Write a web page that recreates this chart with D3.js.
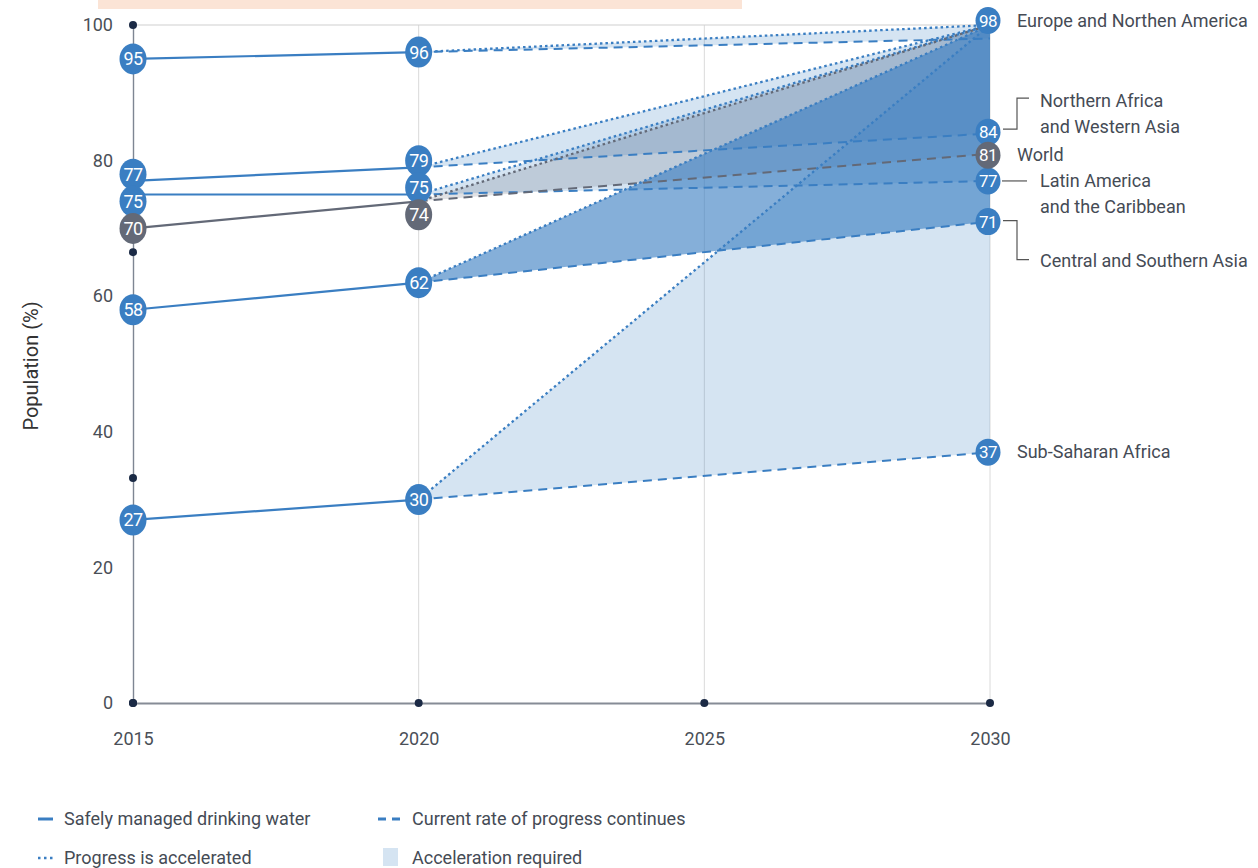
<!DOCTYPE html>
<html>
<head>
<meta charset="utf-8">
<script src="https://cdn.jsdelivr.net/npm/d3@7"></script>
<style>
  html, body { margin: 0; padding: 0; background: #fff; }
  svg { display: block; }
  text { font-family: Roboto, "Noto Sans", sans-serif; }
</style>
</head>
<body>
<svg id="chart" width="1258" height="868"></svg>
<script>
// ---- data ----
const regions = [
  "Europe and Northen America",
  "Northern Africa and Western Asia",
  "Latin America and the Caribbean",
  "World",
  "Central and Southern Asia",
  "Sub-Saharan Africa"
];
const years = [2015, 2020, 2030];
const v2015 = [95, 77, 75, 70, 58, 27];          // safely managed drinking water, 2015
const v2020 = [96, 79, 75, 74, 62, 30];          // safely managed drinking water, 2020
const current2030 = [98, 84, 77, 81, 71, 37];    // current rate of progress continues
const accelerated2030 = [100, 100, 100, 100, 100, 100]; // progress is accelerated
const yTickValues = [0, 20, 40, 60, 80, 100];
const xTickValues = [2015, 2020, 2025, 2030];
const yAxisDots = [100, 66.5, 33.2, 0];
const legendLabels = [
  "Safely managed drinking water",
  "Current rate of progress continues",
  "Progress is accelerated",
  "Acceleration required"
];

// ---- styling ----
const BLUE = "#3a7ec2";
const GREY = "#636977";
const colorOf = name => name === "World" ? GREY : BLUE;
const fillOf = name => name === "World" ? "rgba(100,106,120,0.2)"
  : name === "Central and Southern Asia" ? "rgba(58,126,194,0.62)"
  : "rgba(58,126,194,0.21)";
const endLabelNudge = { "Europe and Northen America": -18 };

const svg = d3.select("#chart");
const x = d3.scaleLinear().domain([2015, 2030]).range([133, 990]);
const y = d3.scaleLinear().domain([0, 100]).range([703, 25]);

// top band
svg.append("rect").attr("x", 98).attr("y", 0).attr("width", 644).attr("height", 9).attr("fill", "#fbe4d6");

// grid
const grid = svg.append("g");
grid.selectAll("line.v").data(xTickValues.slice(1)).join("line")
  .attr("x1", d => x(d)).attr("x2", d => x(d))
  .attr("y1", y(100)).attr("y2", y(0))
  .attr("stroke", "#dadada").attr("stroke-width", 1);
grid.append("line")
  .attr("x1", x(2015)).attr("x2", x(2030))
  .attr("y1", y(100)).attr("y2", y(100))
  .attr("stroke", "#d0d0d0").attr("stroke-width", 1.2);

// axes
const yAxis = svg.append("g").attr("transform", `translate(${x(2015)},0)`)
  .call(d3.axisLeft(y).tickValues(yTickValues).tickSize(0).tickSizeOuter(0).tickPadding(20));
yAxis.select(".domain").attr("stroke", "#7e8693").attr("stroke-width", 1.4);
yAxis.selectAll("text").attr("font-size", 18).attr("fill", "#4a4f57")
  .attr("font-family", "Roboto, sans-serif");

const xAxis = svg.append("g").attr("transform", `translate(0,${y(0)})`)
  .call(d3.axisBottom(x).tickValues(xTickValues).tickFormat(d3.format("d")).tickSize(0).tickSizeOuter(0).tickPadding(29));
xAxis.select(".domain").attr("stroke", "#868c96").attr("stroke-width", 2);
xAxis.selectAll("text").attr("font-size", 18).attr("fill", "#4a4f57")
  .attr("font-family", "Roboto, sans-serif");

svg.append("text")
  .attr("transform", `translate(38,${(y(0) + y(100)) / 2 + 2}) rotate(-90)`)
  .attr("text-anchor", "middle")
  .attr("font-family", "'Noto Sans', sans-serif")
  .attr("font-size", 20).attr("fill", "#333")
  .text("Population (%)");

// axis dots
const dotG = svg.append("g").attr("fill", "#1b2a45");
dotG.selectAll("circle.ya").data(yAxisDots).join("circle")
  .attr("cx", x(2015)).attr("cy", d => y(d)).attr("r", 4);
dotG.selectAll("circle.xa").data(xTickValues).join("circle")
  .attr("cx", d => x(d)).attr("cy", y(0)).attr("r", 4);

// rows
const rows = regions.map((name, i) => ({
  name, a: v2015[i], b: v2020[i], cur: current2030[i], acc: accelerated2030[i]
}));

// acceleration-required areas
svg.append("g").selectAll("path").data(rows).join("path")
  .attr("d", r => `M${x(2020)},${y(r.b)}L${x(2030)},${y(r.acc)}L${x(2030)},${y(r.cur)}Z`)
  .attr("fill", r => fillOf(r.name));

// projections
const proj = svg.append("g").attr("fill", "none").attr("stroke-width", 2);
proj.selectAll("line.cur").data(rows).join("line")
  .attr("x1", x(2020)).attr("y1", r => y(r.b))
  .attr("x2", x(2030)).attr("y2", r => y(r.cur))
  .attr("stroke", r => colorOf(r.name)).attr("stroke-dasharray", "9,6");
proj.selectAll("line.acc").data(rows).join("line")
  .attr("x1", x(2020)).attr("y1", r => y(r.b))
  .attr("x2", x(2030)).attr("y2", r => y(r.acc))
  .attr("stroke", r => colorOf(r.name)).attr("stroke-width", 2.3).attr("stroke-dasharray", "2.5,3");

// observed
const line = d3.line().x(d => x(d[0])).y(d => y(d[1]));
svg.append("g").selectAll("path").data(rows).join("path")
  .attr("d", r => line([[2015, r.a], [2020, r.b]]))
  .attr("fill", "none").attr("stroke", r => colorOf(r.name)).attr("stroke-width", 2.2);

// spread overlapping labels within a column
function spread(items, gap) {
  let clusters = items.slice().sort((p, q) => p.y0 - q.y0)
    .map(it => ({ members: [it], center: it.y0 }));
  let merged = true;
  while (merged) {
    merged = false;
    for (let i = 0; i < clusters.length - 1; i++) {
      const c1 = clusters[i], c2 = clusters[i + 1];
      const bottom1 = c1.center + (c1.members.length - 1) / 2 * gap;
      const top2 = c2.center - (c2.members.length - 1) / 2 * gap;
      if (top2 - bottom1 < gap) {
        const members = c1.members.concat(c2.members);
        clusters.splice(i, 2, { members, center: d3.mean(members, m => m.y0) });
        merged = true;
        break;
      }
    }
  }
  clusters.forEach(c => c.members.forEach((m, k) => {
    m.y = c.center + (k - (c.members.length - 1) / 2) * gap;
  }));
  return items;
}

const labelCols = [
  { year: 2015, key: "a", gap: 27, rx: 13.5, ry: 15.5 },
  { year: 2020, key: "b", gap: 27, rx: 13.5, ry: 15.5 },
  { year: 2030, key: "cur", gap: 23, rx: 12.5, ry: 13.5 }
];
const endPos = {};
labelCols.forEach(col => {
  const items = spread(rows.map(r => ({ r, v: r[col.key], y0: y(r[col.key]) + (col.year === 2030 ? (endLabelNudge[r.name] || 0) : 0) })), col.gap);
  const g = svg.append("g");
  const cx = x(col.year) - (col.year === 2030 ? 2 : 0);
  items.forEach(it => {
    if (col.year === 2030) endPos[it.r.name] = { cx, cy: it.y };
    const node = g.append("g").attr("transform", `translate(${cx},${it.y})`);
    node.append("ellipse").attr("rx", col.rx).attr("ry", col.ry).attr("fill", colorOf(it.r.name));
    node.append("text").attr("text-anchor", "middle").attr("dy", "0.36em")
      .attr("font-size", col.year === 2030 ? 17 : 18).attr("fill", "#fff")
      .attr("letter-spacing", -0.6)
      .text(it.v);
  });
});

// region labels at the right
const lab = svg.append("g").attr("fill", "#454b55").attr("font-size", 18);
const conn = svg.append("g").attr("fill", "none").attr("stroke", "#555").attr("stroke-width", 1.2);
function textLines(x0, y0, lines) {
  lines.forEach((t, k) => lab.append("text").attr("x", x0).attr("y", y0 + k * 26).attr("dy", "0.35em").text(t));
}
{
  const p = endPos["Europe and Northen America"];
  textLines(p.cx + 29, p.cy, ["Europe and Northen America"]);
}
{
  const p = endPos["Northern Africa and Western Asia"];
  conn.append("path").attr("d", `M${p.cx + 15},${p.cy - 3}H${p.cx + 29}V${p.cy - 34}H${p.cx + 41}`);
  textLines(p.cx + 52, p.cy - 31, ["Northern Africa", "and Western Asia"]);
}
{
  const p = endPos["World"];
  textLines(p.cx + 29, p.cy, ["World"]);
}
{
  const p = endPos["Latin America and the Caribbean"];
  conn.append("path").attr("d", `M${p.cx + 14},${p.cy}H${p.cx + 39}`);
  textLines(p.cx + 52, p.cy, ["Latin America", "and the Caribbean"]);
}
{
  const p = endPos["Central and Southern Asia"];
  conn.append("path").attr("d", `M${p.cx + 15},${p.cy - 1}H${p.cx + 29}V${p.cy + 38}H${p.cx + 41}`);
  textLines(p.cx + 52, p.cy + 39, ["Central and Southern Asia"]);
}
{
  const p = endPos["Sub-Saharan Africa"];
  textLines(p.cx + 29, p.cy, ["Sub-Saharan Africa"]);
}

// legend
const leg = svg.append("g");
const legText = (tx, ty, t) => leg.append("text").attr("x", tx).attr("y", ty).attr("dy", "0.35em")
  .attr("font-size", 18).attr("fill", "#454b55").text(t);
leg.append("line").attr("x1", 38).attr("x2", 53).attr("y1", 819).attr("y2", 819)
  .attr("stroke", BLUE).attr("stroke-width", 3);
legText(64, 819, legendLabels[0]);
leg.append("line").attr("x1", 378).attr("x2", 401).attr("y1", 819).attr("y2", 819)
  .attr("stroke", BLUE).attr("stroke-width", 3).attr("stroke-dasharray", "8,6");
legText(412, 819, legendLabels[1]);
leg.append("line").attr("x1", 38).attr("x2", 55).attr("y1", 858).attr("y2", 858)
  .attr("stroke", BLUE).attr("stroke-width", 2.5).attr("stroke-dasharray", "2.5,3.5");
legText(64, 858, legendLabels[2]);
leg.append("rect").attr("x", 383).attr("y", 848).attr("width", 15).attr("height", 18)
  .attr("fill", "rgba(58,126,194,0.21)");
legText(412, 858, legendLabels[3]);
</script>
</body>
</html>
